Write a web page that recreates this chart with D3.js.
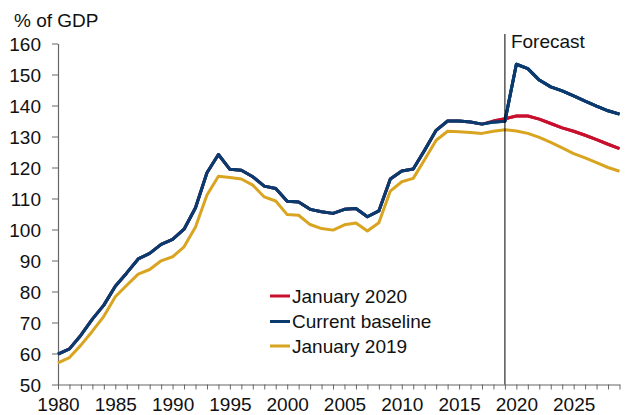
<!DOCTYPE html>
<html>
<head>
<meta charset="utf-8">
<script src="https://cdn.jsdelivr.net/npm/d3@7"></script>
<style>
  html, body { margin: 0; padding: 0; background: #fff; }
  svg { display: block; font-family: "Liberation Sans", Arial, sans-serif; }
</style>
</head>
<body>
<svg id="chart" width="627" height="415"></svg>
<script>
const years = d3.range(1980, 2030);
const xTickLabels = [1980, 1985, 1990, 1995, 2000, 2005, 2010, 2015, 2020, 2025];
const yTickValues = [50, 60, 70, 80, 90, 100, 110, 120, 130, 140, 150, 160];

const currentBaseline = [
  59.8, 61.5, 65.9, 71.1, 75.6, 81.7, 86.0, 90.5, 92.3, 95.2,
  96.8, 100.1, 107.0, 118.3, 124.2, 119.4, 119.1, 117.0, 114.0, 113.2,
  109.1, 108.9, 106.5, 105.7, 105.2, 106.5, 106.8, 104.1, 106.0, 116.3,
  118.9, 119.5, 125.6, 132.0, 135.0, 135.0, 134.7, 134.0, 134.7, 134.9,
  153.3, 151.9, 148.2, 146.0, 144.7, 143.1, 141.4, 139.8, 138.3, 137.2
];
const january2020 = [
  59.8, 61.5, 65.9, 71.1, 75.6, 81.7, 86.0, 90.5, 92.3, 95.2,
  96.8, 100.1, 107.0, 118.3, 124.2, 119.4, 119.1, 117.0, 114.0, 113.2,
  109.1, 108.9, 106.5, 105.7, 105.2, 106.5, 106.8, 104.1, 106.0, 116.3,
  118.9, 119.5, 125.6, 132.0, 135.0, 135.0, 134.7, 134.0, 135.0, 135.7,
  136.6, 136.6, 135.6, 134.2, 132.8, 131.7, 130.4, 129.0, 127.5, 126.1
];
const january2019 = [
  57.0, 58.7, 62.7, 67.2, 72.0, 78.3, 82.0, 85.6, 87.1, 89.9,
  91.2, 94.4, 100.8, 111.1, 117.2, 116.8, 116.3, 114.3, 110.5, 109.2,
  104.8, 104.6, 101.6, 100.3, 99.8, 101.5, 102.1, 99.5, 102.2, 112.4,
  115.4, 116.5, 122.6, 128.8, 131.7, 131.5, 131.3, 131.0, 131.7, 132.2,
  131.8, 131.0, 129.7, 128.1, 126.3, 124.5, 123.1, 121.6, 120.0, 118.8
];
const forecastYear = 2019;

const seriesNames = ["January 2020", "Current baseline", "January 2019"];
const seriesColors = ["#c8102e", "#0b3a6f", "#d9a521"];
const seriesData = [january2020, currentBaseline, january2019];

const svg = d3.select("#chart");
const x = d3.scaleLinear().domain([1980, 2029]).range([58, 619.5]);
const y = d3.scaleLinear().domain([50, 160]).range([384.5, 43.5]);
const FS = 19;
const txt = "#111";

// Y axis
const yAxis = d3.axisLeft(y).tickValues(yTickValues).tickSize(6).tickPadding(11).tickSizeOuter(0);
const gy = svg.append("g").attr("transform", "translate(58,0)").call(yAxis);
gy.select(".domain").attr("stroke", "#666").attr("stroke-width", 1.2);
gy.selectAll(".tick line").attr("stroke", "#666");
gy.selectAll(".tick text").attr("font-size", FS).attr("fill", txt)
  .attr("font-family", "Liberation Sans, Arial, sans-serif").attr("dy", "0.35em");

// X axis
const xAxis = d3.axisBottom(x).tickValues(years).tickSize(5).tickSizeOuter(0)
  .tickFormat(d => xTickLabels.includes(d) ? d : "");
const gx = svg.append("g").attr("transform", "translate(0,384.5)").call(xAxis);
gx.select(".domain").attr("stroke", "#666").attr("stroke-width", 1.2);
gx.selectAll(".tick line").attr("stroke", "#666");
gx.selectAll(".tick text").attr("font-size", FS).attr("fill", txt)
  .attr("font-family", "Liberation Sans, Arial, sans-serif")
  .attr("y", 0).attr("dy", 26.5);

// Unit label
svg.append("text").attr("x", 14).attr("y", 27).attr("font-size", FS).attr("fill", txt).text("% of GDP");

// Lines
const line = d3.line().x((d, i) => x(years[i])).y(d => y(d));
seriesData.forEach((s, k) => {
  svg.append("path").datum(s).attr("d", line)
    .attr("fill", "none").attr("stroke", seriesColors[k]).attr("stroke-width", 3)
    .attr("stroke-linejoin", "round");
});
// blue history on top of the red history
svg.append("path").datum(currentBaseline).attr("d", line)
  .attr("fill", "none").attr("stroke", seriesColors[1]).attr("stroke-width", 3).attr("stroke-linejoin", "round");
// red forecast part visible above blue where it differs
const lineFrom = start => d3.line().x((d, i) => x(years[i + start])).y(d => y(d));
svg.append("path").datum(january2020.slice(38)).attr("d", lineFrom(38))
  .attr("fill", "none").attr("stroke", seriesColors[0]).attr("stroke-width", 3).attr("stroke-linejoin", "round");
svg.append("path").datum(currentBaseline.slice(38)).attr("d", lineFrom(38))
  .attr("fill", "none").attr("stroke", seriesColors[1]).attr("stroke-width", 3).attr("stroke-linejoin", "round");

// Forecast line
svg.append("line").attr("x1", x(forecastYear)).attr("x2", x(forecastYear))
  .attr("y1", 34).attr("y2", 384.5).attr("stroke", "#000").attr("stroke-width", 1);
svg.append("text").attr("x", x(forecastYear) + 6).attr("y", 47.5).attr("font-size", FS).attr("fill", txt).text("Forecast");

// Legend
const legY = [296, 321.5, 346];
seriesNames.forEach((n, k) => {
  svg.append("line").attr("x1", 270).attr("x2", 290).attr("y1", legY[k]).attr("y2", legY[k])
    .attr("stroke", seriesColors[k]).attr("stroke-width", 3);
  svg.append("text").attr("x", 292).attr("y", legY[k]).attr("dy", "0.35em")
    .attr("font-size", FS).attr("fill", txt).text(n);
});
</script>
</body>
</html>
